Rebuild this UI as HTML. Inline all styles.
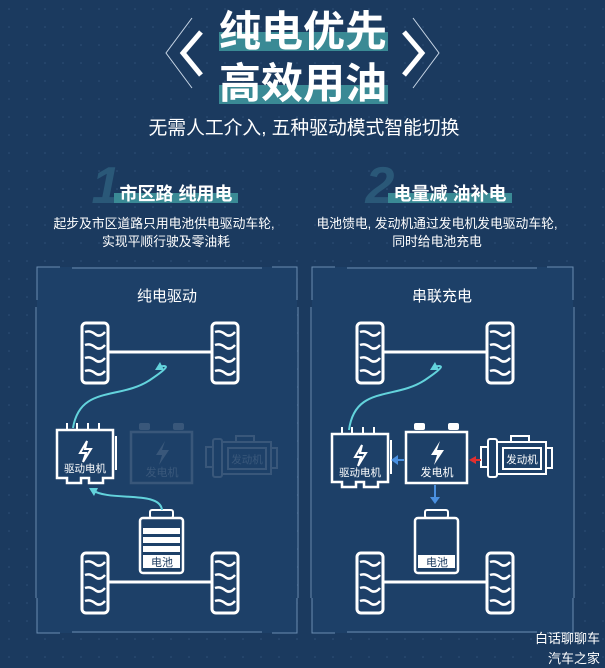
<!DOCTYPE html>
<html><head><meta charset="utf-8"><style>
html,body{margin:0;padding:0;background:#1b3a5f;}
svg{display:block}
text{font-family:"Liberation Sans","Noto Sans CJK SC",sans-serif;}
</style></head><body>
<svg width="605" height="668" viewBox="0 0 605 668" xmlns="http://www.w3.org/2000/svg">
<defs>
<pattern id="dots" width="18" height="18" patternUnits="userSpaceOnUse"><circle cx="9" cy="9" r="0.8" fill="#2f5078"/></pattern>
<g id="tire">
<rect x="0" y="0" width="26" height="60" rx="4" fill="none" stroke="#fff" stroke-width="3"/>
<path d="M3 9 Q8 7 13 11 T23 9 M3 22 Q8 20 13 24 T23 22 M3 35 Q8 33 13 37 T23 35 M3 48 Q8 46 13 50 T23 48" fill="none" stroke="#fff" stroke-width="2.5"/>
</g>
<g id="axle">
<use href="#tire" x="0" y="0"/><use href="#tire" x="130" y="0"/>
<line x1="26" y1="29" x2="130" y2="29" stroke="#fff" stroke-width="3"/>
</g>
<g id="motor">
<path d="M0 0 H56 V48 H46 V53 H32 V48 H24 V53 H10 V48 H0 Z" fill="none" stroke="#fff" stroke-width="2.5"/>
<path d="M10 0 V-7 M20 0 V-7 M31 0 V-7 M42 0 V-7 M59 6 V40" stroke="#fff" stroke-width="2"/>
<path d="M30 11 L23 23 H29 L26 32 L34 19 H28 Z" fill="none" stroke="#fff" stroke-width="2"/>
<text x="28" y="42" font-size="10.5" fill="#fff" text-anchor="middle">驱动电机</text>
</g>
<g id="gen">
<rect x="8" y="0" width="11" height="7" rx="2" fill="#fff"/><rect x="42" y="0" width="11" height="7" rx="2" fill="#fff"/>
<rect x="0" y="9" width="61" height="51" fill="none" stroke="#fff" stroke-width="2.5"/>
<path d="M34 18 L25 32 H31 L28 42 L38 27 H31 Z" fill="#fff"/>
<text x="31" y="53" font-size="11" fill="#fff" text-anchor="middle">发电机</text>
</g>
<g id="engine">
<rect x="0" y="11" width="7" height="20" fill="none" stroke="#fff" stroke-width="2"/>
<rect x="7" y="3" width="9" height="38" rx="2" fill="none" stroke="#fff" stroke-width="2"/>
<rect x="16" y="6" width="49" height="32" fill="none" stroke="#fff" stroke-width="2"/>
<rect x="22" y="12" width="38" height="21" fill="none" stroke="#fff" stroke-width="2"/>
<rect x="30" y="0" width="18" height="6" fill="none" stroke="#fff" stroke-width="2"/>
<rect x="65" y="12" width="6" height="20" fill="none" stroke="#fff" stroke-width="2"/>
<text x="41" y="27" font-size="10.5" fill="#fff" text-anchor="middle">发动机</text>
</g>
</defs>
<rect width="605" height="668" fill="#1b3a5f"/>
<rect width="605" height="668" fill="url(#dots)"/>

<!-- title -->
<rect x="219" y="32" width="169" height="19" fill="#3a8a95"/>
<rect x="219" y="85" width="169" height="19" fill="#3a8a95"/>
<text x="303" y="46" font-size="42" font-weight="bold" fill="#fff" text-anchor="middle">纯电优先</text>
<text x="303" y="98" font-size="42" font-weight="bold" fill="#fff" text-anchor="middle">高效用油</text>
<path d="M192 18 L166 53 L192 88" fill="none" stroke="#c8d6e6" stroke-width="1"/>
<path d="M201 32 L183 53 L201 75" fill="none" stroke="#fff" stroke-width="5"/>
<path d="M413 18 L439 53 L413 88" fill="none" stroke="#c8d6e6" stroke-width="1"/>
<path d="M404 32 L422 53 L404 75" fill="none" stroke="#fff" stroke-width="5"/>
<text x="304" y="134" font-size="18.8" fill="#fff" text-anchor="middle">无需人工介入, 五种驱动模式智能切换</text>

<!-- section heads -->
<text x="106" y="203" font-size="52" font-weight="bold" font-style="italic" fill="#2a5878" text-anchor="middle">1</text>
<text x="380" y="203" font-size="52" font-weight="bold" font-style="italic" fill="#2a5878" text-anchor="middle">2</text>
<rect x="114" y="193" width="124" height="10" fill="#3a8a95"/>
<rect x="388" y="193" width="124" height="10" fill="#3a8a95"/>
<text x="176" y="200" font-size="18" font-weight="bold" fill="#fff" text-anchor="middle">市区路 纯用电</text>
<text x="450" y="200" font-size="18" font-weight="bold" fill="#fff" text-anchor="middle">电量减 油补电</text>
<text x="164" y="228" font-size="12.8" fill="#fff" text-anchor="middle">起步及市区道路只用电池供电驱动车轮,</text>
<text x="166" y="246" font-size="12.8" fill="#fff" text-anchor="middle">实现平顺行驶及零油耗</text>
<text x="437" y="228" font-size="12.8" fill="#fff" text-anchor="middle">电池馈电, 发动机通过发电机发电驱动车轮,</text>
<text x="437" y="246" font-size="12.8" fill="#fff" text-anchor="middle">同时给电池充电</text>

<!-- panels -->
<g fill="none" stroke="#6a8cb0" stroke-width="1">
<rect x="37" y="267" width="260" height="366" fill="#1d4068" stroke="none"/>
<rect x="312" y="267" width="261" height="366" fill="#1d4068" stroke="none"/>
<path d="M37 300 V267 H60 M72 268 H262 M272 267 H297 V300 M37 598 V633 H60 M72 632 H262 M272 633 H297 V598 M36 307 V598 M298 307 V598"/>
<path d="M312 300 V267 H335 M347 268 H537 M547 267 H573 V300 M312 598 V633 H335 M347 632 H537 M547 633 H573 V598 M311 307 V598 M574 307 V598"/>
</g>
<text x="167" y="301" font-size="15" fill="#fff" text-anchor="middle">纯电驱动</text>
<text x="442" y="301" font-size="15" fill="#fff" text-anchor="middle">串联充电</text>

<!-- left panel -->
<use href="#axle" x="82" y="323"/>
<use href="#axle" x="82" y="553"/>
<g opacity="0.12"><use href="#gen" x="131" y="423"/><use href="#engine" x="206" y="436"/></g>
<use href="#motor" x="57" y="430"/>
<g>
<rect x="150" y="510" width="23" height="8" rx="2" fill="none" stroke="#fff" stroke-width="2"/>
<rect x="140" y="518" width="43" height="55" rx="3" fill="none" stroke="#fff" stroke-width="2.5"/>
<rect x="143" y="528" width="37" height="6" fill="#fff"/><rect x="143" y="537" width="37" height="6" fill="#fff"/><rect x="143" y="546" width="37" height="6" fill="#fff"/><rect x="143" y="555" width="37" height="13" fill="#fff"/>
<text x="162" y="566" font-size="11" fill="#1b3a5f" text-anchor="middle">电池</text>
</g>
<path d="M73 428 C80 385 120 400 150 380 S158 368 160 366" fill="none" stroke="#63d3dc" stroke-width="2"/>
<path d="M160 362 L155 370 L164 370 Z" fill="#63d3dc"/>
<path d="M162 510 C160 490 110 502 92 490" fill="none" stroke="#63d3dc" stroke-width="2"/>
<path d="M89 488 L98 488 L94 496 Z" fill="#63d3dc"/>

<!-- right panel -->
<use href="#axle" x="357" y="323"/>
<use href="#axle" x="357" y="553"/>
<use href="#motor" x="332" y="434"/>
<use href="#gen" x="406" y="423"/>
<use href="#engine" x="481" y="436"/>
<g>
<rect x="425" y="510" width="23" height="8" rx="2" fill="none" stroke="#fff" stroke-width="2"/>
<rect x="415" y="518" width="43" height="55" rx="3" fill="none" stroke="#fff" stroke-width="2.5"/>
<rect x="418" y="555" width="37" height="13" fill="#fff"/>
<text x="437" y="566" font-size="11" fill="#1b3a5f" text-anchor="middle">电池</text>
</g>
<path d="M349 430 C355 385 395 400 425 380 S433 368 435 366" fill="none" stroke="#63d3dc" stroke-width="2"/>
<path d="M435 362 L430 370 L439 370 Z" fill="#63d3dc"/>
<path d="M404 460 H396" stroke="#4a90e0" stroke-width="2"/><path d="M391 460 L398 455 V465 Z" fill="#4a90e0"/>
<path d="M435 485 V498" stroke="#4a90e0" stroke-width="2"/><path d="M435 504 L430 497 H440 Z" fill="#4a90e0"/>
<path d="M481 460 H474" stroke="#e03030" stroke-width="2"/><path d="M469 460 L476 456 V464 Z" fill="#e03030"/>

<text x="600" y="643" font-size="13" fill="#fff" text-anchor="end">白话聊聊车</text>
<text x="600" y="663" font-size="13" fill="#fff" text-anchor="end">汽车之家</text>
</svg>
</body></html>
